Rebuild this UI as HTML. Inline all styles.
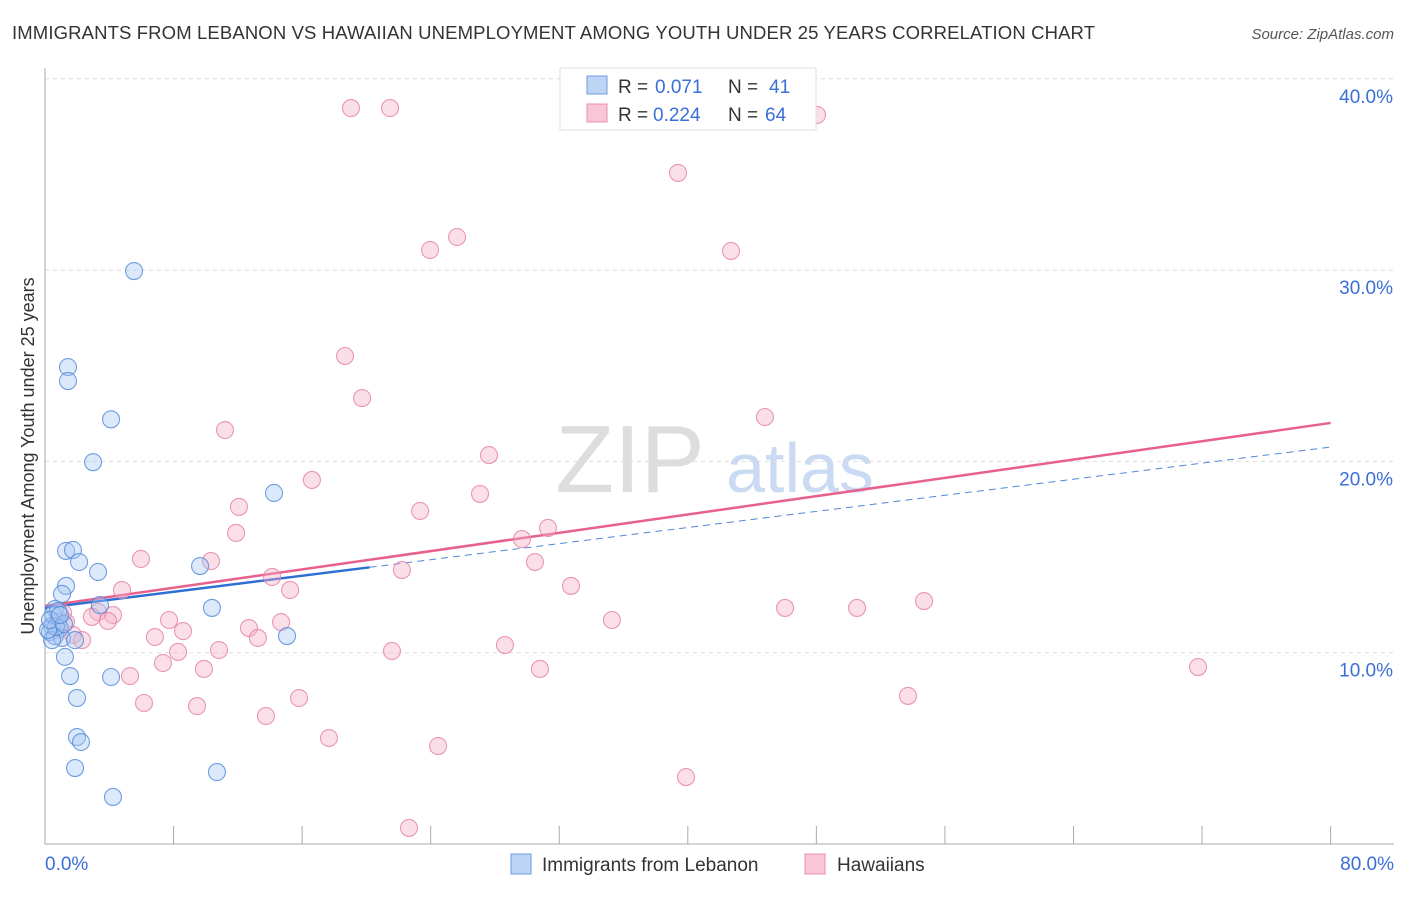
<!DOCTYPE html>
<html><head><meta charset="utf-8"><style>
body{margin:0;background:#fff;font-family:"Liberation Sans",sans-serif;}
svg text{font-family:"Liberation Sans",sans-serif;}
</style></head><body>
<svg id="chart" width="1406" height="892">
<text x="12" y="39" font-size="18.5" fill="#333" textLength="1083">IMMIGRANTS FROM LEBANON VS HAWAIIAN UNEMPLOYMENT AMONG YOUTH UNDER 25 YEARS CORRELATION CHART</text>
<text x="1394" y="39" font-size="15" fill="#555" text-anchor="end" font-style="italic">Source: ZipAtlas.com</text>
<text x="34" y="456" font-size="18" fill="#333" text-anchor="middle" transform="rotate(-90 34 456)">Unemployment Among Youth under 25 years</text>
<text x="630" y="492" font-size="96" fill="#ddd" text-anchor="middle" font-family="Liberation Serif">ZIP</text>
<text x="800" y="492" font-size="70" fill="#c9daf2" text-anchor="middle">atlas</text>
<g id="grid"></g><g id="axes"></g><g id="trend"></g><g id="pts"></g>
<g>
<rect x="560" y="68" width="256" height="62" fill="#fff" stroke="#ddd"/>
<rect x="587" y="76" width="20" height="18" fill="#bcd5f5" stroke="#6d9be0"/>
<rect x="587" y="104" width="20" height="18" fill="#f8c6d5" stroke="#ea8ead"/>
<text x="618" y="93" font-size="19" fill="#333">R =</text>
<text x="655" y="93" font-size="19" fill="#3a6fd8">0.071</text>
<text x="728" y="93" font-size="19" fill="#333">N =</text>
<text x="769" y="93" font-size="19" fill="#3a6fd8">41</text>
<text x="618" y="121" font-size="19" fill="#333">R =</text>
<text x="653" y="121" font-size="19" fill="#3a6fd8">0.224</text>
<text x="728" y="121" font-size="19" fill="#333">N =</text>
<text x="765" y="121" font-size="19" fill="#3a6fd8">64</text>
</g>
<g>
<rect x="511" y="854" width="20" height="20" fill="#bcd5f5" stroke="#6d9be0"/>
<text x="542" y="871" font-size="19" fill="#333">Immigrants from Lebanon</text>
<rect x="805" y="854" width="20" height="20" fill="#f8c6d5" stroke="#ea8ead"/>
<text x="837" y="871" font-size="19" fill="#333">Hawaiians</text>
</g>
</svg>
<script>
const blueX=[5.54,1.43,1.43,4.11,2.99,14.25,1.31,1.74,2.12,3.30,9.65,1.31,1.06,3.42,10.39,0.62,0.50,0.81,0.44,0.93,0.31,0.62,1.06,0.44,1.87,15.06,1.24,1.56,4.11,1.99,1.99,2.24,1.87,10.70,4.23,0.68,0.19,0.81,0.31,1.18,0.93];
const blueY=[29.95,24.93,24.2,22.2,19.96,18.35,15.32,15.37,14.74,14.22,14.53,13.49,13.07,12.49,12.34,12.28,12.02,11.60,11.40,11.29,11.08,10.87,10.77,10.66,10.66,10.87,9.78,8.78,8.73,7.63,5.59,5.33,3.97,3.76,2.46,11.34,11.19,12.18,11.71,11.50,11.97];
const pinkX=[19.04,21.47,48.04,39.39,23.96,25.64,42.69,18.67,19.73,11.20,44.80,27.63,16.61,27.07,12.07,23.34,11.89,29.68,31.30,5.97,10.33,30.49,22.21,14.13,32.73,4.79,15.25,4.23,3.30,2.92,3.92,7.72,14.69,35.28,46.05,50.53,54.70,1.31,1.12,1.74,2.30,6.84,8.59,12.69,13.25,8.28,10.83,21.59,28.62,7.34,9.89,5.29,30.80,71.75,6.16,9.46,15.81,13.75,53.70,17.67,24.46,39.89,22.65,0.87];
const pinkY=[38.47,38.47,38.11,35.08,31.05,31.73,31.00,25.51,23.31,21.64,22.32,20.33,19.03,18.30,17.62,17.41,16.26,15.94,16.52,14.90,14.79,14.74,14.32,13.96,13.49,13.28,13.28,11.97,12.13,11.87,11.66,11.71,11.60,11.71,12.34,12.34,12.70,11.60,12.08,10.93,10.66,10.82,11.13,11.29,10.77,10.04,10.14,10.09,10.40,9.46,9.15,8.78,9.15,9.25,7.37,7.21,7.63,6.69,7.74,5.54,5.12,3.50,0.84,11.19];
const yTicks=[10,20,30,40];
const yTickLabels=["10.0%","20.0%","30.0%","40.0%"];
const xTicks=[0,8,16,24,32,40,48,56,64,72,80];
const blueTrend=[12.34,20.75];
const blueSolidEnd=20.2;
const pinkTrend=[12.44,22.01];
const NS="http://www.w3.org/2000/svg";
const sx=v=>45+v*16.07, sy=v=>844-v*19.13;
function mk(tag,attrs,parent){const e=document.createElementNS(NS,tag);for(const k in attrs)e.setAttribute(k,attrs[k]);document.getElementById(parent).appendChild(e);return e;}
yTicks.forEach((t,i)=>{
 const g=mk('line',{x1:45,x2:1394,y1:sy(t),y2:sy(t),stroke:'#ddd','stroke-dasharray':'4,4'},'grid');
 
 
 const l=mk('text',{x:1393,y:sy(t)+24,'font-size':19,fill:'#3a6fd8','text-anchor':'end'},'grid');
 l.textContent=yTickLabels[i];
 
 
});
const ax=mk('line',{x1:45,x2:45,y1:68,y2:844,stroke:'#aaa'},'axes');


const bx=mk('line',{x1:45,x2:1394,y1:844,y2:844,stroke:'#aaa'},'axes');


xTicks.forEach(t=>{
 const k=mk('line',{x1:sx(t),x2:sx(t),y1:826,y2:844,stroke:'#aaa'},'axes');
 
 
});
const xl0=mk('text',{x:45,y:870,'font-size':19,fill:'#3a6fd8'},'axes');xl0.textContent='0.0%';


const xl1=mk('text',{x:1394,y:870,'font-size':19,fill:'#3a6fd8','text-anchor':'end'},'axes');xl1.textContent='80.0%';


function addPts(X,Y,fill,stroke,name){X.forEach((x,i)=>{
 const c=mk('circle',{cx:sx(x),cy:sy(Y[i]),r:8.5,fill:fill,'fill-opacity':0.4,stroke:stroke,'stroke-width':1.1,'stroke-opacity':0.8},'pts');
 
 
});}
addPts(pinkX,pinkY,'#f5b0c6','#e57fa0','hawaiians-point');
addPts(blueX,blueY,'#a8c8f2','#4f87d8','lebanon-point');
const bY=x=>blueTrend[0]+(blueTrend[1]-blueTrend[0])*x/80;
const pY=x=>pinkTrend[0]+(pinkTrend[1]-pinkTrend[0])*x/80;
const bd=mk('line',{x1:sx(blueSolidEnd),y1:sy(bY(blueSolidEnd)),x2:sx(80),y2:sy(bY(80)),stroke:'#4f87d8','stroke-width':1,'stroke-dasharray':'7,5'},'trend');


const pl=mk('line',{x1:sx(0),y1:sy(pY(0)),x2:sx(80),y2:sy(pY(80)),stroke:'#e8608c','stroke-width':2.5},'trend');


const bl=mk('line',{x1:sx(0),y1:sy(bY(0)),x2:sx(blueSolidEnd),y2:sy(bY(blueSolidEnd)),stroke:'#2e6fd6','stroke-width':2.5},'trend');


</script>
</body></html>
